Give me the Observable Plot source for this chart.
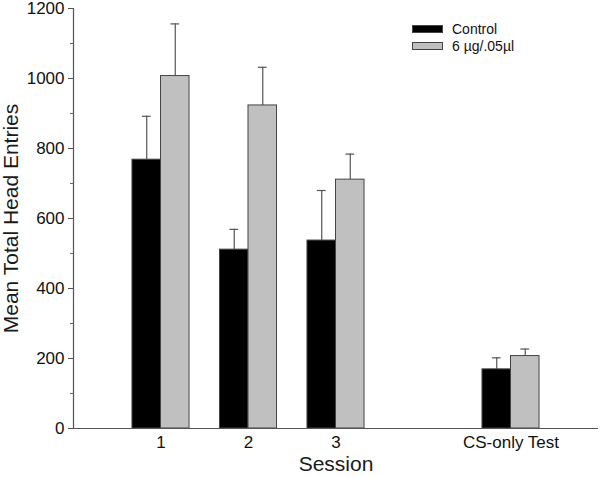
<!DOCTYPE html>
<html>
<head>
<meta charset="utf-8">
<script src="https://cdn.jsdelivr.net/npm/d3@7"></script>
<script src="https://cdn.jsdelivr.net/npm/@observablehq/plot@0.6"></script>
<style>
  html, body { margin: 0; padding: 0; background: #fff; }
  #wrap { position: relative; width: 600px; height: 477px; font-family: "Liberation Sans", Arial, sans-serif; }
  #legend { position: absolute; left: 412px; top: 20px; font-size: 14px; color: #111; }
  .item { display: flex; align-items: center; height: 17px; }
  .sw { width: 31px; height: 8px; margin-right: 9px; box-sizing: border-box; border: 1px solid #444; }
  g[aria-label="x-axis label"] text, g[aria-label="y-axis label"] text { font-size: 21px; fill: #1a1a1a; }
</style>
</head>
<body>
<div id="wrap"></div>
<script>
const categories = ["1", "2", "3", "CS-only Test"];
const sessionPos = [1, 2, 3, 5];
const groups = ["Control", "6 µg/.05µl"];
const controlMean = [768, 511, 537, 169];
const controlErr = [124, 58, 143, 33];
const drugMean = [1007, 923, 711, 207];
const drugErr = [149, 109, 73, 20];
const yTicks = [0, 200, 400, 600, 800, 1000, 1200];
const colors = ["#000000", "#c0c0c0"];

const W = 0.326;
const data = [];
categories.forEach((c, i) => {
  data.push({cat: c, pos: sessionPos[i], group: groups[0], mean: controlMean[i], err: controlErr[i], side: -1});
  data.push({cat: c, pos: sessionPos[i], group: groups[1], mean: drugMean[i], err: drugErr[i], side: 1});
});
const x1 = d => d.side < 0 ? d.pos - W : d.pos;
const x2 = d => d.side < 0 ? d.pos : d.pos + W;
const xc = d => d.pos + d.side * W / 2;

const chart = Plot.plot({
  width: 600,
  height: 477,
  marginLeft: 73,
  marginRight: 2,
  marginTop: 8,
  marginBottom: 49,
  style: {fontFamily: "'Liberation Sans', Arial, sans-serif", fontSize: "17px", color: "#111", overflow: "visible"},
  x: {domain: [0, 6]},
  y: {domain: [0, 1200]},
  color: {domain: groups, range: colors},
  marks: [
    Plot.ruleX(data, {x: xc, y1: d => d.mean, y2: d => d.mean + d.err, stroke: "#555", strokeWidth: 1.2}),
    Plot.ruleY(data, {y: d => d.mean + d.err, x1: d => xc(d) - 0.05, x2: d => xc(d) + 0.05, stroke: "#555", strokeWidth: 1.2}),
    Plot.rectY(data, {x1, x2, y1: 0, y2: "mean", fill: "group", stroke: "#444", strokeWidth: 1}),
    Plot.ruleY([0], {stroke: "#555", strokeWidth: 1.2}),
    Plot.ruleX([0], {y1: 0, y2: 1200, stroke: "#555", strokeWidth: 1.2}),
    Plot.axisY({ticks: d3.range(0, 1201, 100), tickSize: 3, text: null, label: null, stroke: "#666"}),
    Plot.axisY({ticks: yTicks, tickFormat: d => String(d), tickSize: 5, tickPadding: 4, fontSize: 17, label: "Mean Total Head Entries", labelAnchor: "center", labelArrow: "none", labelOffset: 70, stroke: "#555", fill: "#111"}),
    Plot.axisX({ticks: sessionPos, tickFormat: (v) => categories[sessionPos.indexOf(v)], tickSize: 0, tickPadding: 7, fontSize: 17, label: "Session", labelAnchor: "center", labelArrow: "none", labelOffset: 42, fill: "#111"})
  ]
});

const wrap = document.getElementById("wrap");
wrap.appendChild(chart);
const legend = document.createElement("div");
legend.id = "legend";
groups.forEach((g, i) => {
  const item = document.createElement("div");
  item.className = "item";
  const sw = document.createElement("span");
  sw.className = "sw";
  sw.style.background = colors[i];
  const t = document.createElement("span");
  t.textContent = g;
  item.appendChild(sw);
  item.appendChild(t);
  legend.appendChild(item);
});
wrap.appendChild(legend);
</script>
</body>
</html>
